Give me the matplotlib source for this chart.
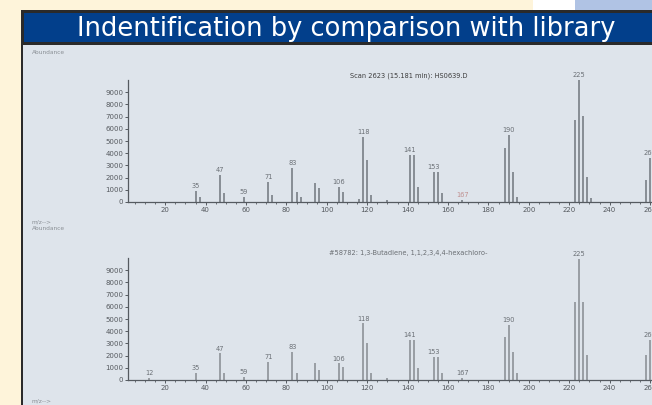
import numpy as np
import matplotlib
matplotlib.use("Agg")
import matplotlib.pyplot as plt
from matplotlib.patches import Rectangle

# measured spectrum (scan 2623)
scan_mz = [35, 37, 47, 49, 59, 71, 73, 83, 85, 87, 94, 96, 106, 108, 116, 118, 120, 122,
           130, 141, 143, 145, 153, 155, 157, 167, 188, 190, 192, 194, 223, 225, 227, 229,
           231, 258, 260]
scan_ab = [900, 400, 2200, 740, 430, 1660, 570, 2760, 850, 400, 1530, 1150, 1250, 850, 250,
           5350, 3440, 570, 200, 3850, 3850, 1250, 2500, 2450, 740, 150, 4400, 5500, 2480,
           400, 6720, 10000, 7050, 2070, 300, 1800, 3580]
scan_labels = [35, 47, 59, 71, 83, 106, 118, 141, 153, 167, 190, 225, 260]

# library spectrum (#58782 hexachlorobutadiene)
lib_mz = [12, 35, 47, 49, 59, 71, 83, 85, 94, 96, 106, 108, 118, 120, 122, 130, 141, 143,
          145, 153, 155, 157, 167, 188, 190, 192, 194, 223, 225, 227, 229, 258, 260]
lib_ab = [200, 550, 2180, 560, 280, 1500, 2320, 560, 1420, 820, 1360, 1090, 4640, 3000,
          560, 150, 3270, 3270, 950, 1900, 1900, 560, 150, 3550, 4500, 2320, 560, 6400,
          9900, 6400, 2050, 2050, 3270]
lib_labels = [12, 35, 47, 59, 71, 83, 106, 118, 141, 153, 167, 190, 225, 260]

yticks = list(range(0, 10000, 1000))
xticks = list(range(20, 281, 20))

W, H = 652, 405
fig = plt.figure(figsize=(W / 100, H / 100), dpi=100)
fig.patch.set_facecolor("#fef4da")


def box(x, y, w, h, color):
    # rectangle in pixel units measured from the top-left corner
    fig.add_artist(Rectangle((x / W, 1 - (y + h) / H), w / W, h / H,
                             transform=fig.transFigure, facecolor=color,
                             edgecolor="none", zorder=-5))


box(533, 0, 42, 10, "#ffffff")
box(575, 0, 77, 10, "#b0c3e4")
box(21, 10, 631, 395, "#2a2a2a")
box(23.5, 13, 629, 29, "#023f8b")
box(23, 44.5, 629, 361, "#dee4eb")

fig.text(346 / W, 1 - 36 / H, "Indentification by comparison with library",
         ha="center", va="baseline", color="white", fontsize=18.5,
         family="DejaVu Sans")


def spectrum(top_px, mz, ab, labels, line_col, title, title_x, title_y, title_col):
    x0, x1 = 128.3, 700
    y_base = top_px + 122
    ax = fig.add_axes([x0 / W, 1 - y_base / H, (x1 - x0) / W, 122 / H])
    ax.set_facecolor("none")
    ax.set_xlim((x0 - 124.8) / 2.02, (x1 - 124.8) / 2.02)
    ax.set_ylim(0, 10000)
    ax.vlines(mz, 0, ab, color=line_col, lw=1.2)
    for m in labels:
        h = ab[mz.index(m)]
        col = "#c09090" if (m == 167 and title_col == "#3c3c3c") else "#6a6f75"
        ax.text(m, h + 150, str(m), ha="center", va="bottom", fontsize=4.8,
                color=col, clip_on=False)
    for s in ["top", "right"]:
        ax.spines[s].set_visible(False)
    for s in ["left", "bottom"]:
        ax.spines[s].set_color("#555a60")
        ax.spines[s].set_linewidth(0.9)
    ax.set_yticks(yticks)
    ax.set_xticks(xticks)
    ax.set_xticks(range(5, 281, 5), minor=True)
    ax.tick_params(axis="both", labelsize=5, labelcolor="#55595e", color="#555a60",
                   length=2, width=0.7, pad=1.5)
    ax.tick_params(axis="x", which="minor", length=1.5, width=0.6, color="#555a60")
    fig.text(title_x / W, 1 - title_y / H, title, ha="center", va="center",
             fontsize=4.8, color=title_col)
    return ax


spectrum(80, scan_mz, scan_ab, scan_labels, "#787e85",
         "Scan 2623 (15.181 min): HS0639.D", 409, 76, "#3c3c3c")
spectrum(258, lib_mz, lib_ab, lib_labels, "#8d9298",
         "#58782: 1,3-Butadiene, 1,1,2,3,4,4-hexachloro-", 408, 253, "#6a6e73")

small = dict(fontsize=4.2, color="#8a8f95", ha="left", va="center")
fig.text(32 / W, 1 - 52 / H, "Abundance", **small)
fig.text(32 / W, 1 - 222 / H, "m/z-->", **small)
fig.text(32 / W, 1 - 229 / H, "Abundance", **small)
fig.text(32 / W, 1 - 401 / H, "m/z-->", **small)

fig.savefig("out.png", dpi=100, facecolor=fig.get_facecolor())
